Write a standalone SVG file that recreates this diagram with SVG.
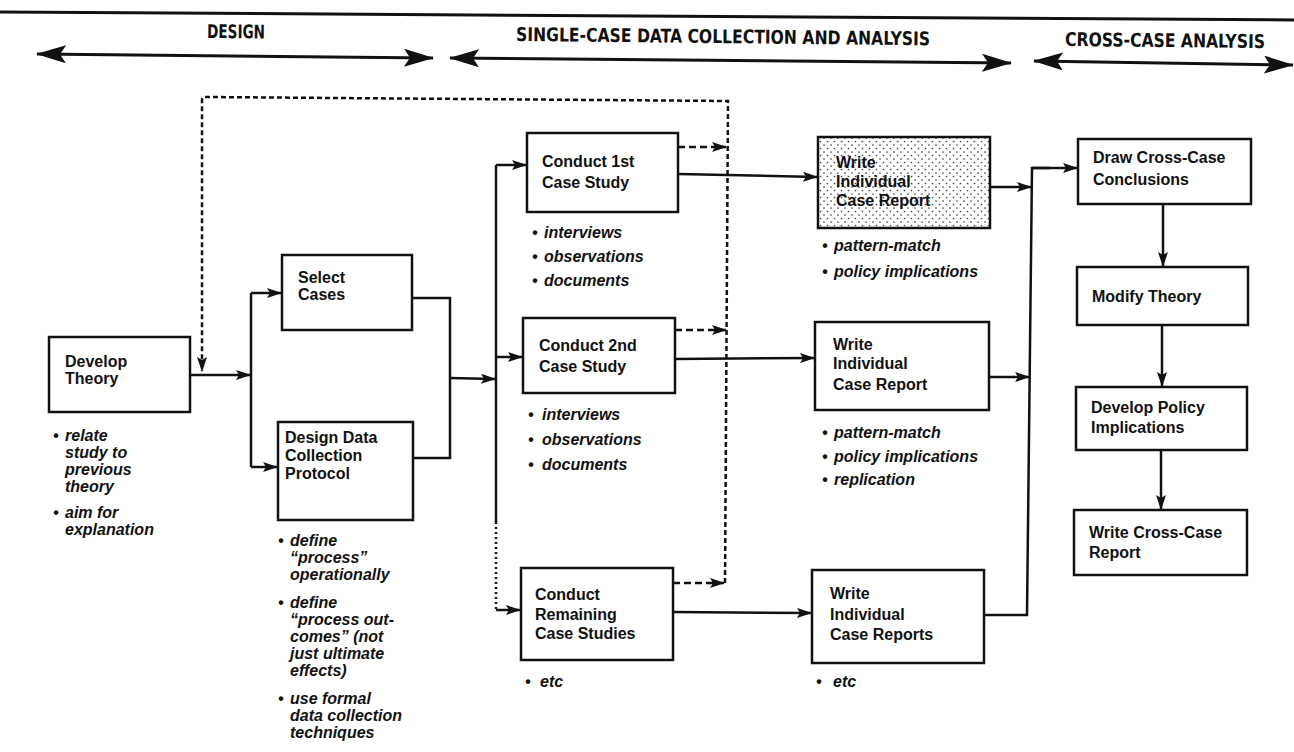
<svg xmlns="http://www.w3.org/2000/svg" width="1294" height="752" viewBox="0 0 1294 752">
<defs>
<style>
.bx{fill:#fff;stroke:#111;stroke-width:2.5}
.lb{font-family:"Liberation Sans",Arial,sans-serif;font-weight:bold;font-size:16px;fill:#111}
.bl{font-family:"Liberation Sans",Arial,sans-serif;font-weight:bold;font-style:italic;font-size:16px;fill:#111}
.hd{font-family:"DejaVu Sans Condensed","DejaVu Sans",sans-serif;font-stretch:condensed;font-weight:bold;font-size:19px;fill:#111}
.cn{fill:none;stroke:#111;stroke-width:2.5}
.ds{fill:none;stroke:#111;stroke-width:2.5;stroke-dasharray:5 3}
.dd{fill:none;stroke:#111;stroke-width:2.5;stroke-dasharray:7 4}
.dt{fill:none;stroke:#111;stroke-width:2.5;stroke-dasharray:2 3}
.hl{fill:none;stroke:#111;stroke-width:3}
</style>
<marker id="arr" markerUnits="userSpaceOnUse" markerWidth="15" markerHeight="10" refX="14" refY="5" orient="auto">
<path d="M0,0 L15,5 L0,10 L3,5 z" fill="#111"/>
</marker>
<marker id="big" markerUnits="userSpaceOnUse" markerWidth="30" markerHeight="18" refX="29" refY="9" orient="auto-start-reverse">
<path d="M0,0 L30,9 L0,18 L6,9 z" fill="#111"/>
</marker>
<pattern id="dots" width="7" height="7" patternUnits="userSpaceOnUse">
<rect width="7" height="7" fill="#fff"/>
<circle cx="1.5" cy="1.5" r="0.85" fill="#444"/>
<circle cx="5" cy="5" r="0.85" fill="#444"/>
</pattern>
</defs>
<rect width="1294" height="752" fill="#fff"/>

<g id="header">
<line x1="0" y1="12" x2="1294" y2="20" class="hl" stroke-width="3.5"/>
<text class="hd" x="207" y="38" textLength="58" lengthAdjust="spacingAndGlyphs" transform="rotate(0.6 207 38)">DESIGN</text>
<text class="hd" x="516" y="41" textLength="414" lengthAdjust="spacingAndGlyphs" transform="rotate(0.6 516 41)">SINGLE-CASE DATA COLLECTION AND ANALYSIS</text>
<text class="hd" x="1065" y="46" textLength="200" lengthAdjust="spacingAndGlyphs" transform="rotate(0.6 1065 46)">CROSS-CASE ANALYSIS</text>
<line x1="37" y1="54" x2="433" y2="58" class="hl" marker-start="url(#big)" marker-end="url(#big)"/>
<line x1="450" y1="58" x2="1011" y2="63" class="hl" marker-start="url(#big)" marker-end="url(#big)"/>
<line x1="1034" y1="61" x2="1293" y2="65" class="hl" marker-start="url(#big)" marker-end="url(#big)"/>
</g>

<g id="connectors">
<line x1="190" y1="375" x2="250" y2="375" class="cn" marker-end="url(#arr)"/>
<line x1="251" y1="293" x2="251" y2="467" class="cn"/>
<line x1="251" y1="293" x2="281" y2="293" class="cn" marker-end="url(#arr)"/>
<line x1="251" y1="467" x2="277" y2="467" class="cn" marker-end="url(#arr)"/>
<polyline points="412,298 450,298 450,458 413,458" class="cn"/>
<line x1="450" y1="378" x2="495" y2="379" class="cn" marker-end="url(#arr)"/>
<line x1="496" y1="165" x2="496" y2="522" class="cn"/>
<line x1="496" y1="522" x2="496" y2="610" class="dt"/>
<line x1="496" y1="165" x2="526" y2="165" class="cn" marker-end="url(#arr)"/>
<line x1="496" y1="357" x2="522" y2="357" class="cn" marker-end="url(#arr)"/>
<line x1="496" y1="610" x2="520" y2="610" class="cn" marker-end="url(#arr)"/>
<line x1="678" y1="174" x2="817" y2="177" class="cn" marker-end="url(#arr)"/>
<line x1="675" y1="359" x2="814" y2="358" class="cn" marker-end="url(#arr)"/>
<line x1="673" y1="612" x2="811" y2="613" class="cn" marker-end="url(#arr)"/>
<line x1="990" y1="187" x2="1031" y2="187" class="cn" marker-end="url(#arr)"/>
<line x1="989" y1="377" x2="1029" y2="377" class="cn" marker-end="url(#arr)"/>
<polyline points="984,615 1027,615 1032,168 1050,168" class="cn"/>
<line x1="1032" y1="168" x2="1077" y2="168" class="cn" marker-end="url(#arr)"/>
<line x1="1163" y1="204" x2="1163" y2="266" class="cn" marker-end="url(#arr)"/>
<line x1="1162" y1="325" x2="1162" y2="386" class="cn" marker-end="url(#arr)"/>
<line x1="1161" y1="450" x2="1161" y2="509" class="cn" marker-end="url(#arr)"/>
<path d="M725,583 L728,101 L205,97 Q202,97 202,100 L202,371" class="ds" marker-end="url(#arr)"/>
<line x1="678" y1="147" x2="726" y2="147" class="dd" marker-end="url(#arr)"/>
<line x1="675" y1="330" x2="726" y2="330" class="dd" marker-end="url(#arr)"/>
<line x1="673" y1="583" x2="724" y2="583" class="dd" marker-end="url(#arr)"/>
</g>

<g id="develop-theory">
<rect x="49" y="337" width="141" height="75" class="bx"/>
<text class="lb" x="65" y="367">Develop</text>
<text class="lb" x="65" y="384">Theory</text>
<text class="bl"><tspan x="53" y="441">•</tspan><tspan x="65" y="441">relate</tspan><tspan x="65" y="458">study to</tspan><tspan x="65" y="475">previous</tspan><tspan x="65" y="492">theory</tspan><tspan x="53" y="518">•</tspan><tspan x="65" y="518">aim for</tspan><tspan x="65" y="535">explanation</tspan></text>
</g>

<g id="select-cases">
<rect x="282" y="255" width="130" height="75" class="bx"/>
<text class="lb" x="298" y="283">Select</text>
<text class="lb" x="298" y="300">Cases</text>
</g>

<g id="design-data-collection-protocol">
<rect x="278" y="422" width="135" height="98" class="bx"/>
<text class="lb" x="285" y="443">Design Data</text>
<text class="lb" x="285" y="461">Collection</text>
<text class="lb" x="285" y="479">Protocol</text>
<text class="bl"><tspan x="278" y="546">•</tspan><tspan x="290" y="546">define</tspan><tspan x="290" y="563">“process”</tspan><tspan x="290" y="580">operationally</tspan><tspan x="278" y="608">•</tspan><tspan x="290" y="608">define</tspan><tspan x="290" y="625">“process out-</tspan><tspan x="290" y="642">comes” (not</tspan><tspan x="290" y="659">just ultimate</tspan><tspan x="290" y="676">effects)</tspan><tspan x="278" y="704">•</tspan><tspan x="290" y="704">use formal</tspan><tspan x="290" y="721">data collection</tspan><tspan x="290" y="738">techniques</tspan></text>
</g>

<g id="conduct-1st">
<rect x="527" y="133" width="151" height="79" class="bx"/>
<text class="lb" x="542" y="167">Conduct 1st</text>
<text class="lb" x="542" y="188">Case Study</text>
<text class="bl"><tspan x="532" y="238">•</tspan><tspan x="544" y="238">interviews</tspan><tspan x="532" y="262">•</tspan><tspan x="544" y="262">observations</tspan><tspan x="532" y="286">•</tspan><tspan x="544" y="286">documents</tspan></text>
</g>

<g id="conduct-2nd">
<rect x="523" y="318" width="152" height="75" class="bx"/>
<text class="lb" x="539" y="351">Conduct 2nd</text>
<text class="lb" x="539" y="372">Case Study</text>
<text class="bl"><tspan x="528" y="420">•</tspan><tspan x="542" y="420">interviews</tspan><tspan x="528" y="445">•</tspan><tspan x="542" y="445">observations</tspan><tspan x="528" y="470">•</tspan><tspan x="542" y="470">documents</tspan></text>
</g>

<g id="conduct-remaining">
<rect x="521" y="568" width="152" height="92" class="bx"/>
<text class="lb" x="535" y="600">Conduct</text>
<text class="lb" x="535" y="620">Remaining</text>
<text class="lb" x="535" y="639">Case Studies</text>
<text class="bl"><tspan x="525" y="687">•</tspan><tspan x="540" y="687">etc</tspan></text>
</g>

<g id="write-report-1">
<rect x="818" y="137" width="172" height="91" class="bx" style="fill:url(#dots)"/>
<text class="lb" x="836" y="168">Write</text>
<text class="lb" x="836" y="187">Individual</text>
<text class="lb" x="836" y="206">Case Report</text>
<text class="bl"><tspan x="822" y="251">•</tspan><tspan x="834" y="251">pattern-match</tspan><tspan x="822" y="277">•</tspan><tspan x="834" y="277">policy implications</tspan></text>
</g>

<g id="write-report-2">
<rect x="815" y="322" width="174" height="88" class="bx"/>
<text class="lb" x="833" y="350">Write</text>
<text class="lb" x="833" y="369">Individual</text>
<text class="lb" x="833" y="390">Case Report</text>
<text class="bl"><tspan x="822" y="438">•</tspan><tspan x="834" y="438">pattern-match</tspan><tspan x="822" y="462">•</tspan><tspan x="834" y="462">policy implications</tspan><tspan x="822" y="485">•</tspan><tspan x="834" y="485">replication</tspan></text>
</g>

<g id="write-reports-remaining">
<rect x="812" y="570" width="172" height="93" class="bx"/>
<text class="lb" x="830" y="599">Write</text>
<text class="lb" x="830" y="620">Individual</text>
<text class="lb" x="830" y="640">Case Reports</text>
<text class="bl"><tspan x="816" y="687">•</tspan><tspan x="833" y="687">etc</tspan></text>
</g>

<g id="draw-conclusions">
<rect x="1078" y="139" width="173" height="65" class="bx"/>
<text class="lb" x="1093" y="163">Draw Cross-Case</text>
<text class="lb" x="1093" y="185">Conclusions</text>
</g>

<g id="modify-theory">
<rect x="1077" y="267" width="171" height="58" class="bx"/>
<text class="lb" x="1092" y="302">Modify Theory</text>
</g>

<g id="develop-policy">
<rect x="1076" y="387" width="171" height="63" class="bx"/>
<text class="lb" x="1091" y="413">Develop Policy</text>
<text class="lb" x="1091" y="433">Implications</text>
</g>

<g id="write-cross-case-report">
<rect x="1074" y="510" width="173" height="65" class="bx"/>
<text class="lb" x="1089" y="538">Write Cross-Case</text>
<text class="lb" x="1089" y="558">Report</text>
</g>
</svg>
